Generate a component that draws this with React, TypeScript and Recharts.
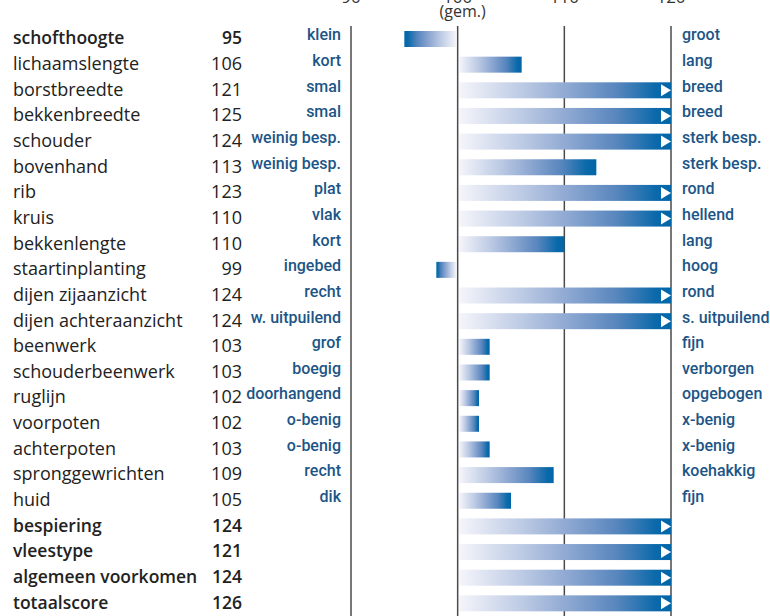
import React from "react";
import { BarChart, Bar, XAxis, YAxis, CartesianGrid } from "recharts";

const traits = [
  "schofthoogte", "lichaamslengte", "borstbreedte", "bekkenbreedte", "schouder",
  "bovenhand", "rib", "kruis", "bekkenlengte", "staartinplanting",
  "dijen zijaanzicht", "dijen achteraanzicht", "beenwerk", "schouderbeenwerk", "ruglijn",
  "voorpoten", "achterpoten", "spronggewrichten", "huid", "bespiering",
  "vleestype", "algemeen voorkomen", "totaalscore",
];
const scoreLabels = [95, 106, 121, 125, 124, 113, 123, 110, 110, 99, 124, 124, 103, 103, 102, 102, 103, 109, 105, 124, 121, 124, 126];
// bar lengths as drawn in the picture
const barValues = [95, 106, 121, 125, 124, 113, 123, 121, 110, 98, 124, 124, 103, 103, 102, 102, 103, 109, 105, 124, 121, 124, 126];
const lowLabels = [
  "klein", "kort", "smal", "smal", "weinig besp.", "weinig besp.", "plat", "vlak", "kort", "ingebed",
  "recht", "w. uitpuilend", "grof", "boegig", "doorhangend", "o-benig", "o-benig", "recht", "dik",
  "", "", "", "",
];
const highLabels = [
  "groot", "lang", "breed", "breed", "sterk besp.", "sterk besp.", "rond", "hellend", "lang", "hoog",
  "rond", "s. uitpuilend", "fijn", "verborgen", "opgebogen", "x-benig", "x-benig", "koehakkig", "fijn",
  "", "", "", "",
];
const boldRows = [true, false, false, false, false, false, false, false, false, false, false, false, false, false, false, false, false, false, false, true, true, true, true];
const axisTicks = [90, 100, 110, 120];
const AVG = 100;
const MAX = 120;

const data = traits.map((t, i) => {
  const v = barValues[i];
  const cap = Math.min(v, MAX);
  return {
    trait: t,
    idx: i,
    range: [Math.min(AVG, cap), Math.max(AVG, cap)],
    dir: v < AVG ? -1 : 1,
    over: v > MAX,
  };
});

const NAME_FONT = "'Open Sans', 'Noto Sans', sans-serif";
const DESC_FONT = "Roboto, 'Noto Sans', sans-serif";
const BLUE = "#1c5586";

const BarShape = (props: any) => {
  const { x, y, width, height, payload } = props;
  const i = payload.idx;
  const left = payload.dir < 0;
  const gap = 1.5;
  const rx = left ? x : x + gap;
  const rw = Math.max(0, width - gap);
  const id = `grad-${i}`;
  const end = x + width;
  return (
    <g>
      <defs>
        <linearGradient id={id} x1={left ? "1" : "0"} y1="0" x2={left ? "0" : "1"} y2="0">
          <stop offset="0" stopColor="#f5f5fb" />
          <stop offset="0.3" stopColor="#bccae4" />
          <stop offset="0.5" stopColor="#91aad3" />
          <stop offset="0.75" stopColor="#5685bd" />
          <stop offset="0.93" stopColor="#0a69aa" />
          <stop offset="1" stopColor="#0066a8" />
        </linearGradient>
      </defs>
      <rect x={rx} y={y} width={rw} height={height} fill={`url(#${id})`} />
      {payload.over && (
        <polygon
          points={`${end - 10},${y + 2} ${end},${y + height / 2} ${end - 10},${y + height - 2}`}
          fill="#ffffff"
        />
      )}
    </g>
  );
};

const TopTick = (props: any) => {
  const { x, payload } = props;
  return (
    <g>
      <text x={x} y={3} textAnchor="middle" fontSize={17} fill="#333" fontFamily={NAME_FONT}>
        {payload.value}
      </text>
      {payload.value === AVG && (
        <text x={x + 5} y={17} textAnchor="middle" fontSize={16} fill="#333" fontFamily={NAME_FONT}>
          (gem.)
        </text>
      )}
    </g>
  );
};

const RowTick = (props: any) => {
  const { y, payload } = props;
  const i = payload.index;
  const bold = boldRows[i];
  const by = y + 5.5;
  const dy = y + 1.5;
  const fs = bold ? 17.5 : 18;
  const fw = bold ? 600 : 400;
  return (
    <g>
      <text x={13} y={by} fontSize={fs} fill="#222" fontWeight={fw} fontFamily={NAME_FONT}>
        {traits[i]}
      </text>
      <text x={242} y={by} textAnchor="end" fontSize={fs} fill="#222" fontWeight={fw} fontFamily={NAME_FONT}>
        {scoreLabels[i]}
      </text>
      {lowLabels[i] && (
        <text x={341} y={dy} textAnchor="end" fontSize={16} fill={BLUE} fontWeight={500} fontFamily={DESC_FONT}>
          {lowLabels[i]}
        </text>
      )}
      {highLabels[i] && (
        <text x={682} y={dy} fontSize={16} fill={BLUE} fontWeight={500} fontFamily={DESC_FONT}>
          {highLabels[i]}
        </text>
      )}
    </g>
  );
};

export default function App() {
  return (
    <div style={{ position: "absolute", left: 0, top: 0, width: 770, height: 616, background: "#fff" }}>
      <BarChart
        width={770}
        height={616}
        data={data}
        layout="vertical"
        margin={{ top: 0, right: 99, left: 0, bottom: 0 }}
        barSize={16}
      >
        <CartesianGrid horizontal={false} vertical={true} stroke="#4a4a4a" strokeWidth={1.5} />
        <XAxis
          type="number"
          domain={[90, 120]}
          ticks={axisTicks}
          orientation="top"
          height={26}
          axisLine={false}
          tickLine={false}
          tick={<TopTick />}
          allowDataOverflow
        />
        <YAxis
          type="category"
          dataKey="trait"
          width={351}
          axisLine={false}
          tickLine={false}
          interval={0}
          tick={<RowTick />}
        />
        <Bar dataKey="range" shape={<BarShape />} isAnimationActive={false} />
      </BarChart>
    </div>
  );
}
